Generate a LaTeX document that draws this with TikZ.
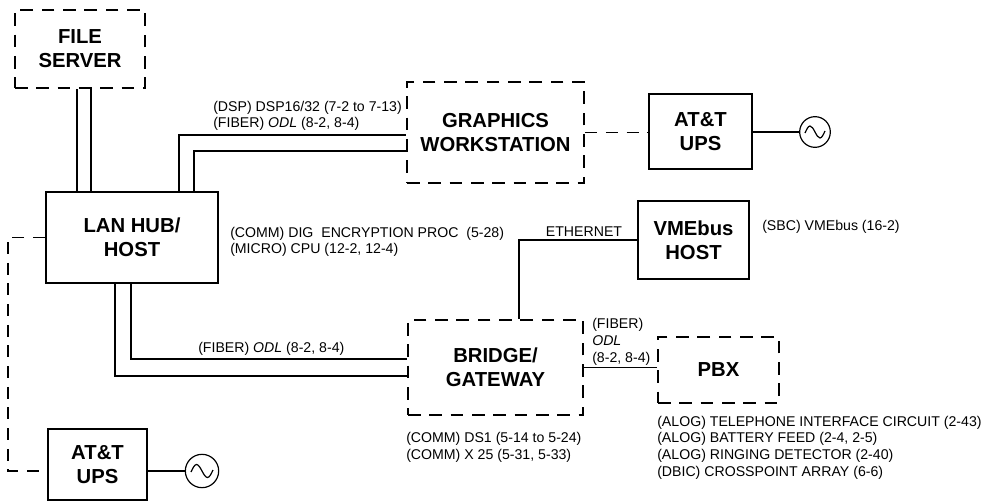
\documentclass[tikz,border=0pt]{standalone}
\usepackage{fontspec}
\setmainfont{Liberation Sans}
\usetikzlibrary{positioning,calc}

\begin{document}
\begin{tikzpicture}[x=0.75pt, y=-0.75pt,
  every node/.style={font=\fontsize{10.6}{12.4}\selectfont},
  solidbox/.style={draw, line width=1.9pt, align=center, inner sep=0pt,
    font=\fontsize{15.2}{18}\selectfont\bfseries},
  dashbox/.style={solidbox, dash pattern=on 9.5pt off 6.5pt},
  wire/.style={line width=0.9pt},
  dwire/.style={wire, dash pattern=on 9pt off 6.5pt},
  acsrc/.style={draw, circle, line width=0.9pt, minimum size=23pt, inner sep=0pt},
  lbl/.style={anchor=base west, inner sep=0pt, align=left}]
  \useasboundingbox (0,0) rectangle (996,502);

  \node[dashbox, minimum width=97.5pt, minimum height=58.5pt]   (fs)   at (80,49)      {FILE\\SERVER};
  \node[solidbox, minimum width=129pt, minimum height=68.25pt]  (hub)  at (132,237.5)  {LAN HUB/\\HOST};
  \node[dashbox, minimum width=132.75pt, minimum height=75.75pt] (gw)  at (495.5,132.5) {GRAPHICS\\WORKSTATION};
  \node[solidbox, minimum width=77.25pt, minimum height=56.25pt] (upsA) at (700.5,131.5) {AT\&T\\UPS};
  \node[solidbox, minimum width=83.25pt, minimum height=58.5pt]  (vme)  at (693.5,240)   {VMEbus\\HOST};
  \node[dashbox, minimum width=131.25pt, minimum height=71.25pt] (br)   at (495.5,367.5) {BRIDGE/\\GATEWAY};
  \node[dashbox, minimum width=90.75pt, minimum height=49.5pt]   (pbx)  at (718.5,370)   {PBX};
  \node[solidbox, minimum width=74.25pt, minimum height=53.25pt] (upsB) at (97.5,464.5)  {AT\&T\\UPS};
  \node[acsrc] (acA) at (815,132) {};
  \node[acsrc, minimum size=25pt] (acB) at (202,471) {};
  \draw[wire, shift={(acA)}] (-10,1) sin (-5,-6) cos (0,0) sin (5,6) cos (10,-1);
  \draw[wire, shift={(acB)}] (-11,1) sin (-5.5,-6.5) cos (0,0) sin (5.5,6.5) cos (11,-1);

  \coordinate (fsL) at ($(fs.south)+(-3,0)$);
  \coordinate (fsR) at ($(fs.south)+(11,0)$);
  \draw[wire] (fsL) -- (fsL |- hub.north);
  \draw[wire] (fsR) -- (fsR |- hub.north);

  \coordinate (hubGa) at ($(hub.north)+(47,0)$);
  \coordinate (hubGb) at ($(hub.north)+(62,0)$);
  \draw[wire] (hubGa) |- ($(gw.west)+(0,2.5)$);
  \draw[wire] (hubGb) |- ($(gw.west)+(0,18.5)$);
  \draw[dwire] (gw.east) -- (gw.east -| upsA.west);
  \draw[wire] (upsA.east |- acA) -- (acA);

  \coordinate (hubBa) at ($(hub.south)+(-1,0)$);
  \coordinate (hubBb) at ($(hub.south)+(-17,0)$);
  \draw[wire] (hubBa) |- ($(br.west)+(0,-8.5)$);
  \draw[wire] (hubBb) |- ($(br.west)+(0,8.5)$);

  \coordinate (brE) at ($(br.north)+(23.5,0)$);
  \draw[wire] (vme.west) -| (brE);
  \draw[wire] (br.east) -- (br.east -| pbx.west);

  \coordinate (lft) at (8,0);
  \draw[dwire] (hub.west) -- (hub.west -| lft) |- ($(upsB.west)+(0,6.5)$);
  \draw[wire] ($(upsB.east)+(0,6.5)$) -- (acB);

  \node[lbl] (dspL)  at (213,128) {(DSP) DSP16/32 (7-2 to 7-13)\\(FIBER) \textit{ODL} (8-2, 8-4)};
  \node[lbl] (commL) at (230,254) {(COMM) DIG\ \ ENCRYPTION PROC\ \ (5-28)\\(MICRO) CPU (12-2, 12-4)};
  \node[lbl] (fibL)  at (198,353) {(FIBER) \textit{ODL} (8-2, 8-4)};
  \node[anchor=base, inner sep=0pt] (ethL) at (584,237) {ETHERNET};
  \node[lbl] (sbcL)  at (762,231) {(SBC) VMEbus (16-2)};
  \node[lbl] (pbxF)  at (592,362) {(FIBER)\\\textit{ODL}\\(8-2, 8-4)};
  \node[lbl] (brL)   at (406,459) {(COMM) DS1 (5-14 to 5-24)\\(COMM) X 25 (5-31, 5-33)};
  \node[lbl] (pbxL)  at (657,476) {(ALOG) TELEPHONE INTERFACE CIRCUIT (2-43)\\(ALOG) BATTERY FEED (2-4, 2-5)\\(ALOG) RINGING DETECTOR (2-40)\\(DBIC) CROSSPOINT ARRAY (6-6)};
\end{tikzpicture}
\end{document}
